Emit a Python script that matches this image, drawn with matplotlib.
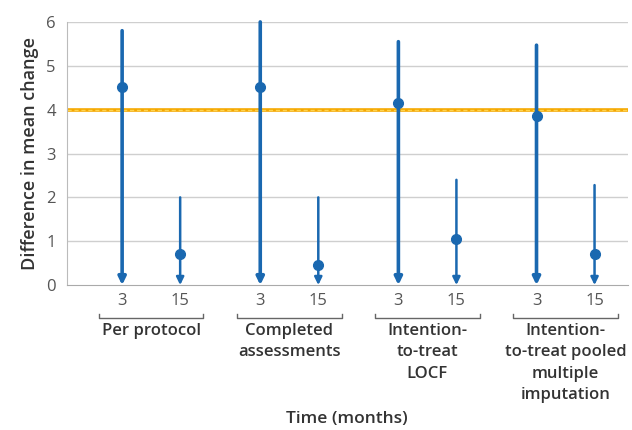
import numpy as np
import matplotlib.pyplot as plt
from matplotlib.transforms import blended_transform_factory

plt.rcParams['font.family'] = ['Open Sans', 'DejaVu Sans']

groups = ['Per protocol', 'Completed\nassessments', 'Intention-\nto-treat\nLOCF',
          'Intention-\nto-treat pooled\nmultiple\nimputation']
times = ['3', '15']
means = [4.52, 0.71, 4.52, 0.46, 4.16, 1.05, 3.86, 0.71]
uppers = [5.8, 2.0, 6.0, 2.0, 5.55, 2.4, 5.47, 2.28]
threshold = 4

blue = '#1a68b0'
pitch = 2.38
xs = []
for g in range(len(groups)):
    xs += [g * pitch, g * pitch + 1]
xs = np.array(xs)

fig = plt.figure(figsize=(6.32, 4.30), dpi=100)
ax = fig.add_axes([0.106, 0.337, 0.888, 0.612])

ax.set_xlim(-0.95, 8.72)
ax.set_ylim(0, 6)
for y in range(1, 7):
    ax.axhline(y, color='#cfcfcf', lw=1, zorder=0)
ax.axhline(threshold, color='#f5a800', lw=2.6, zorder=1)
ax.axhline(threshold, color='#ffd34d', lw=1.0, ls=(0, (3, 2)), zorder=1)

for i, (x, m, u) in enumerate(zip(xs, means, uppers)):
    lw = 2.6 if i % 2 == 0 else 1.8
    ax.annotate('', xy=(x, 0), xytext=(x, u),
                arrowprops=dict(arrowstyle='-|>,head_length=0.45,head_width=0.22',
                                color=blue, lw=lw, shrinkA=0, shrinkB=0),
                zorder=3)
    ax.plot(x, m, 'o', color=blue, ms=7, zorder=4)

ax.set_xticks(xs)
ax.set_xticklabels(times * len(groups))
ax.set_yticks(range(0, 7))
ax.tick_params(length=0, labelsize=12, colors='#555555', pad=6)
ax.tick_params(axis='y', pad=8)
for s in ['top', 'right']:
    ax.spines[s].set_visible(False)
ax.spines['bottom'].set_color('#aaaaaa')
ax.spines['left'].set_color('#bbbbbb')

ax.set_ylabel('Difference in mean change', fontsize=13, fontweight='semibold',
              color='#333333', labelpad=5)

tr = blended_transform_factory(ax.transData, ax.transAxes)
for g, name in enumerate(groups):
    x0 = g * pitch - 0.4
    x1 = g * pitch + 1.4
    ax.plot([x0, x0, x1, x1], [-0.11, -0.125, -0.125, -0.11], color='#666666',
            lw=1, transform=tr, clip_on=False)
    ax.text(g * pitch + 0.5, -0.143, name, transform=tr, ha='center', va='top',
            fontsize=12, fontweight='semibold', color='#333333', linespacing=1.45)

fig.text(0.549, 0.026, 'Time (months)', ha='center', va='center', fontsize=12.5,
         fontweight='semibold', color='#333333')

fig.savefig('out.png', dpi=100)
